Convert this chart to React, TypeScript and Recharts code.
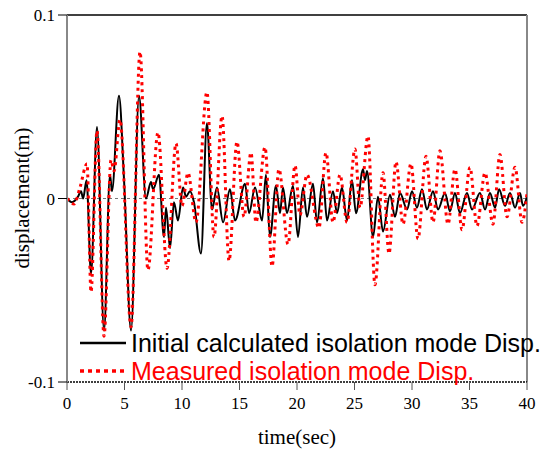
import React from "react";
import {
    LineChart,
    Line,
    XAxis,
    YAxis,
    ReferenceLine,
    Legend,
    Label,
} from "recharts";

// time (sec) / displacement (m), peaks and troughs
const calcTime = [
    0, 0.43, 0.96, 1.22, 1.4, 1.7, 2.09, 2.61, 3.22, 3.74, 3.91, 4.52, 4.96, 5.57, 6.26, 6.87,
    7.3, 7.48, 8.0, 8.43, 8.61, 8.96, 9.3, 9.65, 10.09, 10.35, 10.7, 11.04, 11.65, 12.17, 12.61,
    13.04, 13.57, 14.17, 14.61, 15.48, 15.83, 16.35, 16.96, 17.3, 17.65, 18.17, 18.52, 18.78,
    19.13, 19.65, 20.09, 20.52, 20.87, 21.39, 21.74, 22.26, 22.61, 23.13, 23.48, 23.91, 24.35,
    24.78, 25.13, 25.74, 25.91, 26.09, 26.61, 27.04, 27.48, 28.09, 28.52, 28.96, 29.57, 30.0,
    30.43, 30.87, 31.3, 31.83, 32.26, 32.87, 33.3, 33.74, 34.17, 34.78, 35.22, 35.91, 36.35,
    36.78, 37.22, 37.57, 38.09, 38.52, 38.96, 39.39, 39.65, 40,
];
const calcDisp = [
    0, -0.002, 0.001, 0.004, 0.0, 0.01, -0.041, 0.039, -0.072, 0.013, 0.004, 0.056, 0.01, -0.072,
    0.056, 0.0, 0.009, 0.005, 0.013, -0.021, -0.005, -0.027, -0.002, -0.012, 0.006, 0.001, 0.004,
    -0.002, -0.03, 0.041, -0.006, 0.006, -0.013, 0.005, -0.012, 0.008, -0.008, 0.006, -0.012,
    0.013, -0.021, 0.007, -0.008, 0.006, -0.008, 0.007, -0.021, 0.006, -0.01, 0.008, -0.013,
    0.011, -0.012, 0.004, -0.008, 0.006, -0.012, 0.01, -0.008, 0.016, 0.01, 0.015, -0.021, 0.001,
    -0.018, 0.002, -0.01, 0.003, -0.006, 0.004, -0.005, 0.005, -0.006, 0.004, -0.006, 0.003,
    -0.007, 0.003, -0.008, 0.003, -0.006, 0.003, -0.006, 0.003, -0.005, 0.005, -0.004, 0.003,
    -0.005, 0.003, -0.004, 0.001,
];

const measTime = [
    0, 0.61, 1.13, 1.74, 2.09, 2.61, 3.22, 3.83, 4.09, 4.61, 5.57, 6.35, 7.04, 7.91, 8.7, 9.48,
    10.0, 10.52, 11.22, 12.17, 12.78, 13.48, 14.09, 14.78, 15.39, 16.0, 16.43, 17.22, 17.83,
    18.43, 19.22, 19.83, 20.26, 20.87, 21.91, 22.52, 23.13, 23.74, 24.35, 25.04, 25.48, 26.17,
    26.78, 27.48, 28.0, 28.61, 29.22, 29.91, 30.52, 31.22, 31.83, 32.43, 33.13, 33.74, 34.35,
    35.04, 35.65, 36.35, 37.04, 37.65, 38.26, 38.96, 39.57, 40,
];
const measDisp = [
    0, -0.003, 0.006, 0.019, -0.051, 0.037, -0.075, 0.021, 0.015, 0.043, -0.07, 0.08, -0.039,
    0.036, -0.038, 0.03, -0.004, 0.014, -0.013, 0.058, -0.021, 0.045, -0.034, 0.031, -0.01,
    0.025, -0.013, 0.028, -0.037, 0.016, -0.025, 0.018, -0.009, 0.013, -0.016, 0.025, -0.013,
    0.013, -0.013, 0.027, -0.005, 0.034, -0.047, 0.014, -0.03, 0.02, -0.014, 0.019, -0.022,
    0.023, -0.013, 0.026, -0.014, 0.016, -0.017, 0.017, -0.015, 0.014, -0.014, 0.024, -0.01,
    0.017, -0.013, 0.003,
];

const xTicks = [0, 5, 10, 15, 20, 25, 30, 35, 40];
const yTicks = [-0.1, 0, 0.1];

const calcData = calcTime.map((t, i) => ({ t, v: calcDisp[i] }));
const measData = measTime.map((t, i) => ({ t, v: measDisp[i] }));

const SERIF = '"Liberation Serif", "Times New Roman", serif';
const SANS = '"Liberation Sans", Arial, sans-serif';

const legendItems = [
    { name: "Initial calculated isolation mode Disp.", color: "#000000", dash: undefined, width: 2.5 },
    { name: "Measured isolation mode Disp.", color: "#ff0000", dash: "4 4", width: 3.5 },
];

const renderLegend = () => (
    <div style={{ fontFamily: SANS, fontSize: 25, lineHeight: "28px", whiteSpace: "nowrap" }}>
        {legendItems.map((it) => (
            <div key={it.name} style={{ display: "flex", alignItems: "center" }}>
                <svg width={46} height={10}>
                    <line x1={0} y1={5} x2={46} y2={5} stroke={it.color} strokeWidth={it.width} strokeDasharray={it.dash} />
                </svg>
                <span style={{ marginLeft: 5, color: it.color }}>{it.name}</span>
            </div>
        ))}
    </div>
);

export default function App() {
    return (
        <div style={{ position: "absolute", left: 0, top: 0, width: 543, height: 450, background: "#fff" }}>
            <LineChart width={543} height={450} margin={{ top: 15, right: 16, bottom: 0, left: 0 }}>
                <XAxis
                    dataKey="t"
                    type="number"
                    domain={[0, 40]}
                    ticks={xTicks}
                    allowDataOverflow
                    height={68}
                    tickSize={8}
                    tickMargin={7}
                    axisLine={{ stroke: "#000", strokeDasharray: "2 1", strokeWidth: 1.5 }}
                    tickLine={{ stroke: "#555" }}
                    tick={{ fill: "#000", fontSize: 17, fontFamily: SERIF }}
                >
                    <Label
                        content={() => (
                            <text x={297} y={437} textAnchor="middle" dominantBaseline="central" fontFamily={SERIF} fontSize={21} fill="#000">
                                time(sec)
                            </text>
                        )}
                    />
                </XAxis>
                <YAxis
                    type="number"
                    domain={[-0.1, 0.1]}
                    ticks={yTicks}
                    allowDataOverflow
                    width={67}
                    tickSize={9}
                    tickMargin={3}
                    tickFormatter={(v: number) => (v === 0 ? "0" : String(v))}
                    axisLine={{ stroke: "#888", strokeWidth: 2 }}
                    tickLine={{ stroke: "#000" }}
                    tick={{ fill: "#000", fontSize: 17, fontFamily: SERIF }}
                >
                    <Label
                        content={() => (
                            <text
                                x={22}
                                y={198}
                                transform="rotate(-90, 22, 198)"
                                textAnchor="middle"
                                dominantBaseline="central"
                                fontFamily={SERIF}
                                fontSize={21}
                                fill="#000"
                            >
                                displacement(m)
                            </text>
                        )}
                    />
                </YAxis>
                <ReferenceLine y={0.1} stroke="#000" strokeWidth={1.5} />
                <ReferenceLine y={0} stroke="#777" strokeDasharray="3 3" />
                <ReferenceLine x={40} stroke="#888" strokeWidth={2} />
                <Line
                    data={calcData}
                    dataKey="v"
                    type="monotone"
                    stroke="#000"
                    strokeWidth={2}
                    dot={false}
                    isAnimationActive={false}
                />
                <Line
                    data={measData}
                    dataKey="v"
                    type="monotone"
                    stroke="#ff0000"
                    strokeWidth={3}
                    strokeDasharray="3 4"
                    dot={false}
                    isAnimationActive={false}
                />
                <Legend
                    layout="vertical"
                    align="center"
                    verticalAlign="middle"
                    content={renderLegend}
                    wrapperStyle={{ left: 80, top: 329, width: 470 }}
                />
            </LineChart>
        </div>
    );
}
